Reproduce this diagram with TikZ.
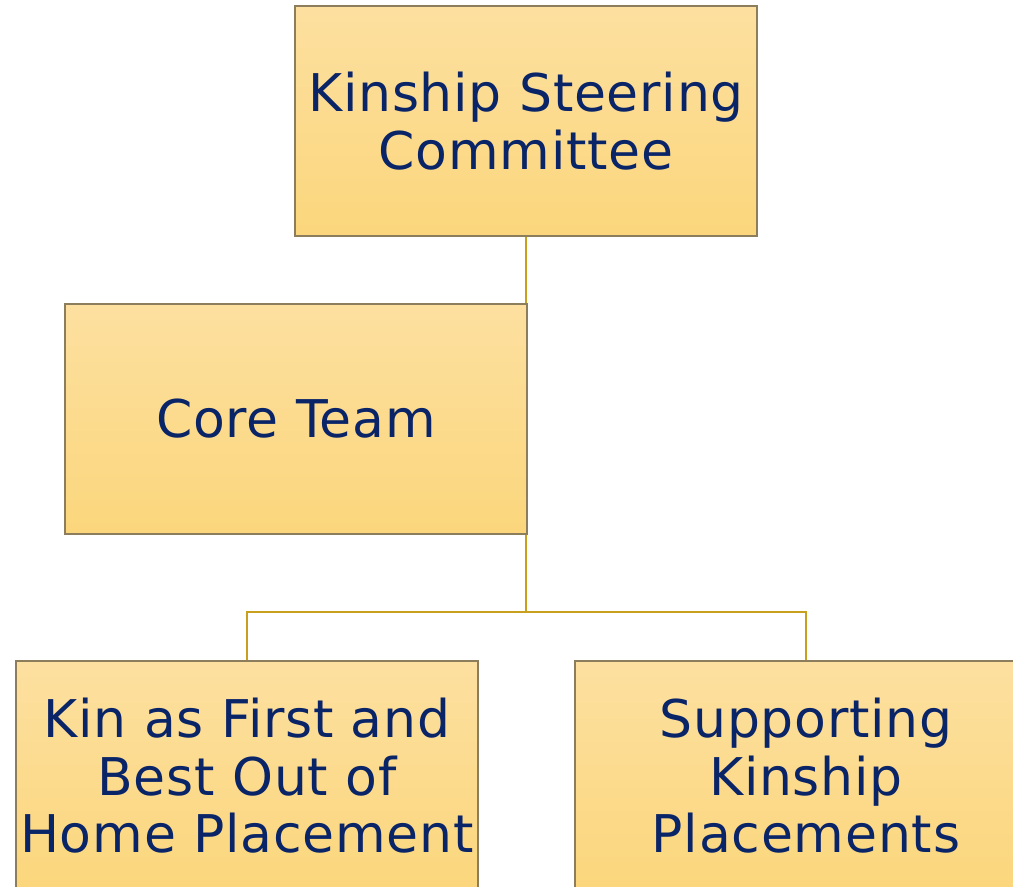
\documentclass[tikz,border=0pt]{standalone}
\usepackage{fontspec}
\setmainfont{DejaVu Sans}[LetterSpace=1.5]
\usepackage{tikz}
\usetikzlibrary{shapes,positioning,calc}
\definecolor{navy}{RGB}{10,36,104}
\definecolor{boxtop}{RGB}{253,224,160}
\definecolor{boxbottom}{RGB}{251,214,124}
\definecolor{boxborder}{RGB}{140,125,92}
\definecolor{linegold}{RGB}{201,160,30}
\tikzstyle{ruolo} = [rectangle, minimum width=462pt, minimum height=230pt, align=center, draw=boxborder, line width=1.2pt,
top color=boxtop, bottom color=boxbottom, text=navy, font=\fontsize{52}{57.5}\selectfont]
\tikzstyle{linea} = [draw=linegold, line width=2.2pt]

\begin{document}
\begin{tikzpicture}[x=1pt,y=-1pt]
				\clip (0,0) rectangle (1013,887);
				\node (ksc) at (526,121) [ruolo] {Kinship Steering\\Committee};
				\node (core) at (296,419) [ruolo] {Core Team};
				\node (kin) at (247,776) [ruolo] {Kin as First and\\Best Out of\\Home Placement};
				\node (supp) at (806,776) [ruolo] {Supporting\\Kinship\\Placements};
				\coordinate (split) at (526,612);
				\draw[linea] (ksc) -- (ksc.south |- core.north);
				\draw[linea] (ksc.south |- core.south) -- (split);
				\draw[linea] (kin) -- (kin.north |- split) -- (supp.north |- split) -- (supp);
				\end{tikzpicture}
\end{document}
